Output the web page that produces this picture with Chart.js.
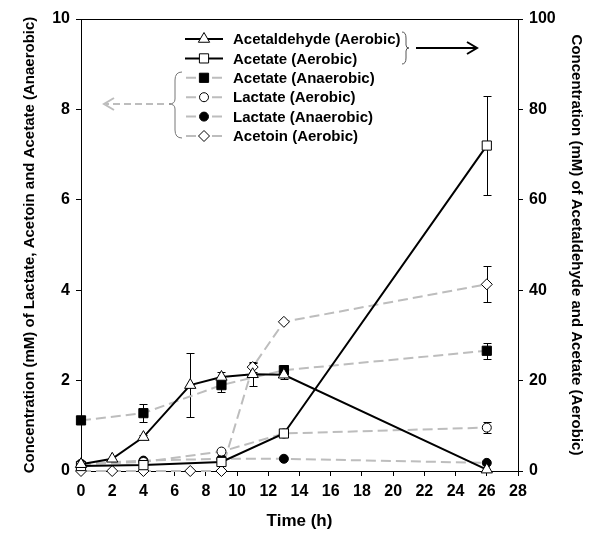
<!DOCTYPE html>
<html>
<head>
<meta charset="utf-8">
<script src="https://cdn.jsdelivr.net/npm/chart.js@4"></script>
<style>
  body { margin: 0; background: #fff; }
  #wrap { width: 600px; height: 539px; position: relative; }
</style>
</head>
<body>
<div id="wrap"><canvas id="chart"></canvas></div>
<script>
// time points (h)
const timeLong = [0, 2, 4, 7, 9, 11, 13, 26];
const timeShort = [0, 4, 9, 13, 26];

// right axis series (aerobic)
const acetaldehydeAer = [1.5, 2.7, 7.5, 19, 20.8, 21.4, 21.3, 0.3];
const acetaldehydeAerErr = [0, 0, 0.5, 7.1, 1.2, 2.5, 1, 0];
const acetateAer = [1.1, 1.3, 2.0, 8.3, 72];
const acetateAerErr = [0, 0, 0, 0.5, 11];

// left axis series
const acetateAnaer = [1.12, 1.28, 1.9, 2.23, 2.66];
const acetateAnaerErr = [0, 0.2, 0.16, 0.12, 0.18];
const lactateAer = [0.15, 0.2, 0.43, 0.83, 0.96];
const lactateAerErr = [0, 0, 0, 0.05, 0.12];
const lactateAnaer = [0.16, 0.23, 0.27, 0.27, 0.18];
const lactateAnaerErr = [0, 0, 0, 0, 0];
const acetoinAer = [0, 0, 0, 0, 0, 2.3, 3.3, 4.13];
const acetoinAerErr = [0, 0, 0, 0, 0, 0.12, 0, 0.4];

const labels = [
  "Acetaldehyde (Aerobic)",
  "Acetate (Aerobic)",
  "Acetate (Anaerobic)",
  "Lactate (Aerobic)",
  "Lactate (Anaerobic)",
  "Acetoin (Aerobic)",
];

const GRAY = "#bdbdbd";
const FONT = "'Liberation Sans', Arial, sans-serif";

const pts = (xs, ys) => xs.map((x, i) => ({ x: x, y: ys[i] }));

const makeSet = (label, xs, ys, errs, axis, style, filled, solid, radius, order) => ({
  label: label,
  data: pts(xs, ys),
  errors: errs,
  yAxisID: axis,
  borderColor: solid ? "#000" : GRAY,
  borderWidth: 2,
  borderDash: solid ? [] : [10, 5],
  pointStyle: style,
  pointRadius: radius,
  pointBorderWidth: 1,
  pointBorderColor: "#000",
  pointBackgroundColor: filled ? "#000" : "#fff",
  tension: 0,
  clip: false,
  order: order,
});

const datasets = [
  makeSet(labels[0], timeLong, acetaldehydeAer, acetaldehydeAerErr, "y2", "triangle", false, true, 6.5, 1),
  makeSet(labels[1], timeShort, acetateAer, acetateAerErr, "y2", "rect", false, true, 6.5, 2),
  makeSet(labels[2], timeShort, acetateAnaer, acetateAnaerErr, "y", "rect", true, false, 6.5, 3),
  makeSet(labels[3], timeShort, lactateAer, lactateAerErr, "y", "circle", false, false, 4.5, 4),
  makeSet(labels[4], timeShort, lactateAnaer, lactateAnaerErr, "y", "circle", true, false, 4.5, 5),
  makeSet(labels[5], timeLong, acetoinAer, acetoinAerErr, "y", "rectRot", false, false, 5.5, 6),
];

const errorBars = {
  id: "errorBars",
  beforeDatasetsDraw(chart) {
    const ctx = chart.ctx;
    ctx.save();
    ctx.strokeStyle = "#000";
    ctx.lineWidth = 1;
    chart.data.datasets.forEach((ds, di) => {
      const meta = chart.getDatasetMeta(di);
      const scale = chart.scales[ds.yAxisID];
      ds.data.forEach((p, i) => {
        const e = ds.errors[i];
        if (!e) return;
        const x = Math.round(meta.data[i].x) + 0.5;
        const y1 = Math.round(scale.getPixelForValue(p.y + e)) + 0.5;
        const y2 = Math.round(scale.getPixelForValue(p.y - e)) + 0.5;
        ctx.beginPath();
        ctx.moveTo(x, y1); ctx.lineTo(x, y2);
        ctx.moveTo(x - 4, y1); ctx.lineTo(x + 4, y1);
        ctx.moveTo(x - 4, y2); ctx.lineTo(x + 4, y2);
        ctx.stroke();
      });
    });
    ctx.restore();
  },
};

const drawMarker = (ctx, ds, x, y) => {
  ctx.fillStyle = ds.pointBackgroundColor;
  ctx.strokeStyle = "#000";
  ctx.lineWidth = 1;
  Chart.helpers.drawPoint(ctx, { pointStyle: ds.pointStyle, radius: ds.pointRadius, borderWidth: 1 }, x, y);
};

const legendBox = {
  id: "legendBox",
  afterDraw(chart) {
    const ctx = chart.ctx;
    const { left, right, top } = chart.chartArea;
    ctx.save();
    // top frame line
    ctx.strokeStyle = "#000";
    ctx.lineWidth = 1;
    ctx.beginPath();
    ctx.moveTo(left, top + 0.5);
    ctx.lineTo(right, top + 0.5);
    ctx.stroke();

    const rowY = (i) => 39 + 19.4 * i;
    chart.data.datasets.forEach((ds, i) => {
      const y = rowY(i);
      ctx.lineWidth = 2;
      ctx.strokeStyle = ds.borderColor;
      ctx.beginPath();
      if (ds.borderDash.length) {
        ctx.moveTo(186, y); ctx.lineTo(196, y);
        ctx.moveTo(212, y); ctx.lineTo(222, y);
      } else {
        ctx.moveTo(185, y); ctx.lineTo(223, y);
      }
      ctx.stroke();
      drawMarker(ctx, ds, 204, y);
      ctx.fillStyle = "#000";
      ctx.font = "bold 15px " + FONT;
      ctx.textBaseline = "middle";
      ctx.textAlign = "left";
      ctx.fillText(ds.label, 233, y + 1);
    });

    // right brace + arrow
    ctx.strokeStyle = "#555";
    ctx.lineWidth = 1;
    ctx.beginPath();
    ctx.moveTo(402, 32);
    ctx.quadraticCurveTo(406, 32, 406, 38);
    ctx.lineTo(406, 45);
    ctx.quadraticCurveTo(406, 48, 409, 48);
    ctx.quadraticCurveTo(406, 48, 406, 51);
    ctx.lineTo(406, 58);
    ctx.quadraticCurveTo(406, 64, 402, 64);
    ctx.stroke();
    ctx.strokeStyle = "#000";
    ctx.lineWidth = 2;
    ctx.beginPath();
    ctx.moveTo(416, 48); ctx.lineTo(476, 48);
    ctx.moveTo(467, 42); ctx.lineTo(477, 48); ctx.lineTo(467, 54);
    ctx.stroke();

    // left brace + dashed arrow
    ctx.strokeStyle = "#777";
    ctx.lineWidth = 1;
    ctx.beginPath();
    ctx.moveTo(182, 72);
    ctx.quadraticCurveTo(175, 72, 175, 80);
    ctx.lineTo(175, 99);
    ctx.quadraticCurveTo(175, 104, 169, 104);
    ctx.quadraticCurveTo(175, 104, 175, 109);
    ctx.lineTo(175, 130);
    ctx.quadraticCurveTo(175, 138, 182, 138);
    ctx.stroke();
    ctx.strokeStyle = GRAY;
    ctx.lineWidth = 2;
    ctx.setLineDash([7, 4]);
    ctx.beginPath();
    ctx.moveTo(164, 104); ctx.lineTo(106, 104);
    ctx.stroke();
    ctx.setLineDash([]);
    ctx.beginPath();
    ctx.moveTo(114, 98); ctx.lineTo(104, 104); ctx.lineTo(114, 110);
    ctx.stroke();
    ctx.restore();
  },
};

const tickFont = { family: FONT, size: 16, weight: "bold" };

new Chart("chart", {
  type: "line",
  data: { datasets: datasets },
  options: {
    responsive: true,
    maintainAspectRatio: false,
    animation: false,
    layout: { padding: { top: 19, left: 0, right: 0, bottom: 0 } },
    plugins: {
      legend: { display: false },
      tooltip: { enabled: false },
    },
    scales: {
      x: {
        type: "linear",
        min: 0,
        max: 28,
        afterFit: (s) => { s.height = 68; },
        ticks: { stepSize: 2, color: "#000", font: tickFont, padding: 6, maxRotation: 0 },
        grid: { drawOnChartArea: false, tickLength: 5, color: "#000" },
        border: { color: "#000", width: 1 },
        title: {
          display: true,
          text: "Time (h)",
          color: "#000",
          font: { family: FONT, size: 17, weight: "bold" },
          padding: 7,
        },
      },
      y: {
        position: "left",
        min: 0,
        max: 10,
        afterFit: (s) => { s.width = 81; },
        ticks: { stepSize: 2, color: "#000", font: tickFont, padding: 6 },
        grid: { drawOnChartArea: false, tickLength: 5, color: "#000" },
        border: { color: "#000", width: 1 },
        title: {
          display: true,
          text: "Concentration (mM) of Lactate, Acetoin and Acetate (Anaerobic)",
          color: "#000",
          font: { family: FONT, size: 15, weight: "bold" },
          padding: 21,
        },
      },
      y2: {
        position: "right",
        min: 0,
        max: 100,
        afterFit: (s) => { s.width = 82; },
        ticks: { stepSize: 20, color: "#000", font: tickFont, padding: 6 },
        grid: { drawOnChartArea: false, tickLength: 5, color: "#000" },
        border: { color: "#000", width: 1 },
        title: {
          display: true,
          text: "Concentration (mM) of Acetaldehyde and Acetate (Aerobic)",
          color: "#000",
          font: { family: FONT, size: 15, weight: "bold" },
          padding: 15,
        },
      },
    },
  },
  plugins: [errorBars, legendBox],
});
</script>
</body>
</html>
